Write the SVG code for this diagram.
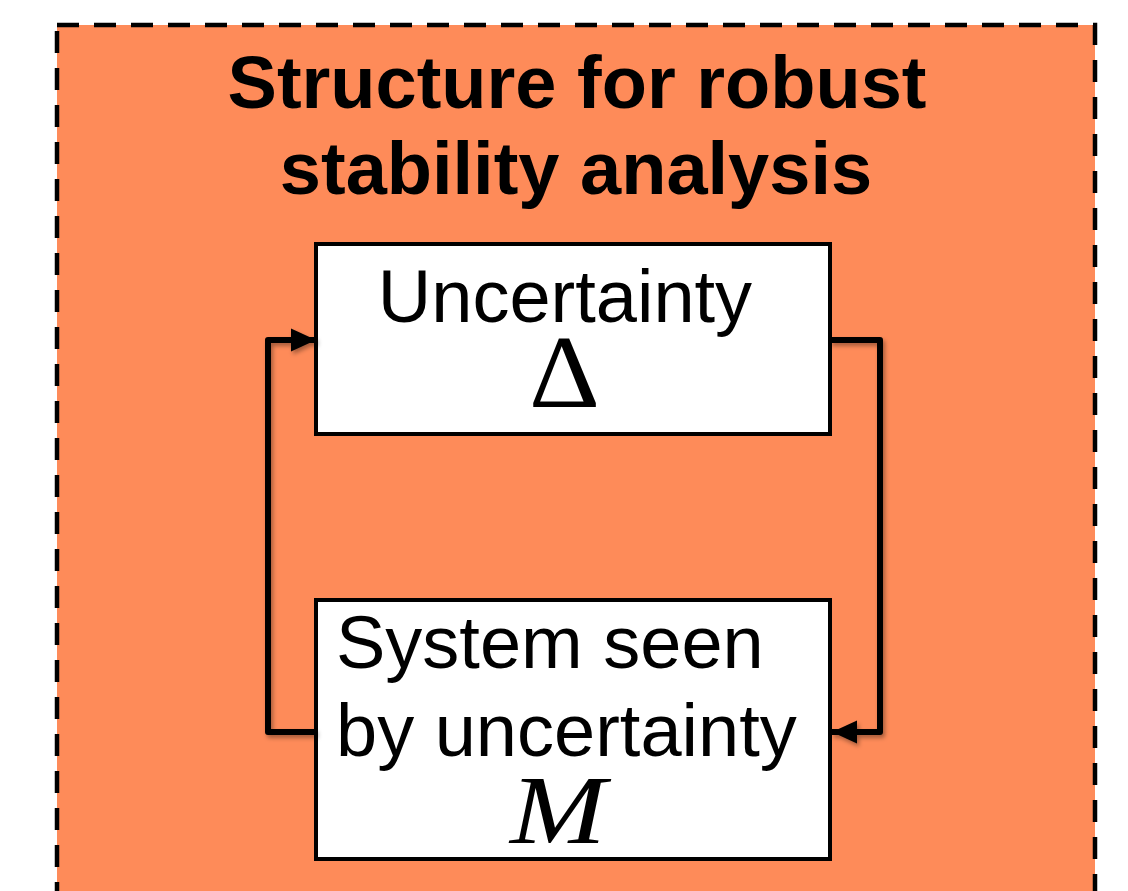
<svg xmlns="http://www.w3.org/2000/svg" width="1128" height="891" viewBox="0 0 1128 891">
<style>
.title{font-family:"Liberation Sans",Arial,sans-serif;font-weight:bold;font-size:74px;fill:#000;text-anchor:middle}
.lbl{font-family:"Liberation Sans",Arial,sans-serif;font-size:74px;fill:#000}
.math{font-family:"Liberation Serif","DejaVu Serif",serif;fill:#000}
.box{fill:#fff;stroke:#000;stroke-width:4}
.conn{fill:none;stroke:#000;stroke-width:6;stroke-linejoin:round;filter:url(#sh)}
</style>
<defs>
<marker id="arr" markerWidth="28" markerHeight="26" refX="25" refY="13" orient="auto" markerUnits="userSpaceOnUse">
<path d="M0,1.5 L25,13 L0,24.5 Z" fill="#000"/>
</marker>
<filter id="sh" x="-20%" y="-20%" width="140%" height="140%">
<feDropShadow dx="2" dy="3" stdDeviation="2" flood-color="#000" flood-opacity="0.35"/>
</filter>
</defs>
<rect x="0" y="0" width="1128" height="891" fill="#fff"/>
<g id="container">
<rect x="57" y="25" width="1038" height="900" fill="#FE8B59" stroke="#000" stroke-width="4.5" stroke-dasharray="22 15"/>
<text class="title" x="577" y="108">Structure for robust</text>
<text class="title" x="576" y="194">stability analysis</text>
</g>
<g id="uncertainty">
<rect class="box" x="316" y="244" width="514" height="190"/>
<text class="lbl" x="565" y="322" text-anchor="middle">Uncertainty</text>
<text class="math" x="529" y="407" font-size="104" textLength="71" lengthAdjust="spacingAndGlyphs">Δ</text>
</g>
<g id="system">
<rect class="box" x="316" y="600" width="514" height="259"/>
<text class="lbl" x="336" y="668">System seen</text>
<text class="lbl" x="336" y="756">by uncertainty</text>
<text class="math" x="510" y="843" font-size="98" font-style="italic" textLength="96" lengthAdjust="spacingAndGlyphs">M</text>
</g>
<g id="connectors">
<path class="conn" d="M316,732 H268 V340 H316" marker-end="url(#arr)"/>
<path class="conn" d="M830,340 H880 V732 H832" marker-end="url(#arr)"/>
</g>
</svg>
